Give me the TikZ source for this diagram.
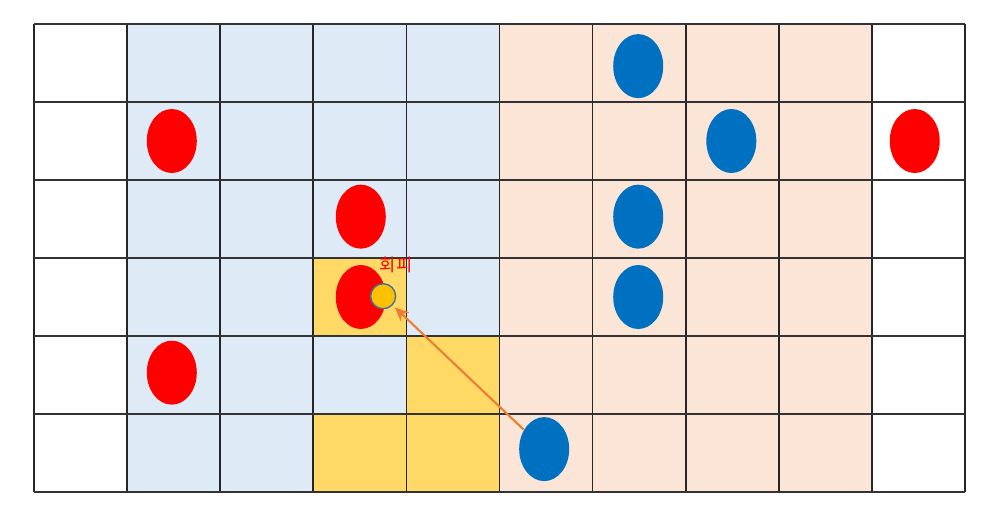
\documentclass[tikz,border=0pt]{standalone}
\usepackage{fontspec}
\newfontfamily\kofont{Noto Sans CJK KR}
\usetikzlibrary{arrows.meta,shapes.geometric}
\definecolor{cellblue}{HTML}{DEEBF7}
\definecolor{cellorange}{HTML}{FBE5D6}
\definecolor{cellyellow}{HTML}{FFD966}
\definecolor{redstone}{HTML}{FF0000}
\definecolor{bluestone}{HTML}{0070C0}
\definecolor{dodgefill}{HTML}{FFC000}
\definecolor{dodgeline}{HTML}{41719C}
\definecolor{arroworange}{HTML}{ED7D31}
\tikzset{
    redpiece/.style={
        ellipse,
        fill=redstone,
        minimum width=0.5cm,
        minimum height=0.64cm,
        inner sep=0pt
    },
    bluepiece/.style={
        ellipse,
        fill=bluestone,
        minimum width=0.5cm,
        minimum height=0.64cm,
        inner sep=0pt
    },
    % 회피 위치 표시
    dodgedot/.style={
        circle,
        fill=dodgefill,
        draw=dodgeline,
        line width=0.4pt,
        minimum size=0.25cm,
        inner sep=0pt
    },
    orangearrow/.style={
        line width=0.6pt,
        arroworange,
        ->,
        >={Stealth[length=4pt, width=3.5pt]}
    }
}

\begin{document}
\begin{tikzpicture}
    \useasboundingbox (0,0) rectangle (10.02,5.25);
    \begin{scope}[shift={(0.34,0.33)}, x=0.931cm, y=0.78cm]
    \fill[cellblue] (1,0) rectangle (5,6);
    \fill[cellorange] (5,0) rectangle (9,6);
    \fill[cellyellow] (3,2) rectangle (4,3) (4,1) rectangle (5,2) (3,0) rectangle (5,1);
    \foreach \i in {0,...,10}
        \draw[line width=0.5pt, black!85] (\i,0) -- (\i,6);
    \foreach \j in {0,...,6}
        \draw[line width=0.5pt, black!80] (0,\j) -- (10,\j);

    \node[redpiece] (r1) at (1.48,4.5) {};
    \node[redpiece] (r2) at (3.51,3.53) {};
    \node[redpiece] (r3) at (3.51,2.5) {};
    \node[redpiece] (r4) at (1.48,1.53) {};
    \node[redpiece] (r5) at (9.46,4.5) {};

    \node[bluepiece] (b1) at (6.49,5.46) {};
    \node[bluepiece] (b2) at (7.49,4.5) {};
    \node[bluepiece] (b3) at (6.49,3.53) {};
    \node[bluepiece] (b4) at (6.49,2.5) {};
    \node[bluepiece] (b5) at (5.48,0.55) {};

    \node[dodgedot] (dodge) at (3.75,2.51) {};
    \node[text=redstone, inner sep=0pt, font=\kofont\fontsize{5}{6}\selectfont] (dodgelabel) at (3.89,2.91) {회피};

    \draw[orangearrow, shorten >=0.03cm] (b5) -- (dodge);
    \end{scope}
\end{tikzpicture}
\end{document}
